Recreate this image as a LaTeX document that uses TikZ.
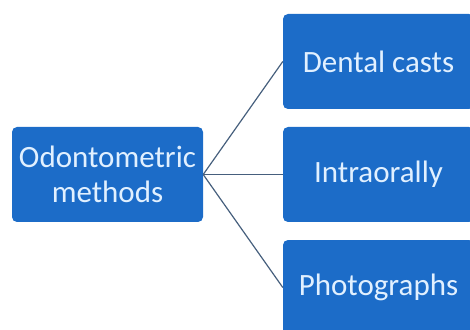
\documentclass[tikz,border=0pt]{standalone}
\usepackage{fontspec}
\setmainfont{Carlito}
\definecolor{boxblue}{RGB}{28,108,200}
\definecolor{txtcol}{RGB}{225,240,255}
\definecolor{linecol}{RGB}{70,95,125}
\begin{document}
\begin{tikzpicture}[x=1pt,y=1pt,
  box/.style={fill=boxblue,rounded corners=5pt,minimum width=191pt,minimum height=95pt,
    inner sep=0pt,text=txtcol,align=center,font=\fontsize{31}{35}\selectfont},
  conn/.style={draw=linecol,line width=1.2pt}]
\useasboundingbox (0,0) rectangle (470,329);
\clip (0,0) rectangle (470,329);
\node[box] (src) at (107.5,154.5) {Odontometric\\methods};
\node[box] (dc) at (378.5,267.5) {Dental casts};
\node[box] (io) at (378.5,154.5) {Intraorally};
\node[box] (ph) at (378.5,41.5) {Photographs};
\draw[conn] (src.east) -- (dc.west);
\draw[conn] (src.east) -- (io.west);
\draw[conn] (src.east) -- (ph.west);
\end{tikzpicture}
\end{document}
